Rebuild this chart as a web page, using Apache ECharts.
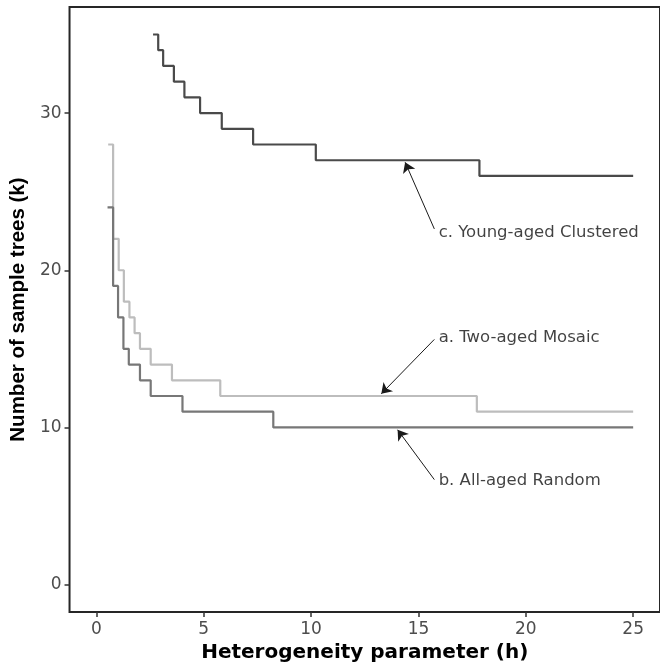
<!DOCTYPE html>
<html>
<head>
<meta charset="utf-8">
<script src="https://cdn.jsdelivr.net/npm/echarts@6/dist/echarts.min.js"></script>
<style>
html,body{margin:0;padding:0;background:#fff;}
#chart{width:660px;height:668px;}
</style>
</head>
<body>
<div id="chart"></div>
<script>
// ---- data ----
const hMosaic    = [0.55, 0.78, 1.04, 1.28, 1.54, 1.78, 2.03, 2.53, 3.52, 5.77, 17.72, 25];
const kMosaic    = [28,   22,   20,   18,   17,   16,   15,   14,   13,   12,   11,    11];
const hRandom    = [0.52, 0.78, 1.01, 1.26, 1.51, 2.03, 2.53, 4.01, 8.24, 25];
const kRandom    = [24,   19,   17,   15,   14,   13,   12,   11,   10,   10];
const hClustered = [2.64, 2.88, 3.11, 3.61, 4.10, 4.83, 5.84, 7.30, 10.22, 17.84, 25];
const kClustered = [35,   34,   33,   32,   31,   30,   29,   28,   27,    26,    26];

const xTicks = [0, 5, 10, 15, 20, 25];
const yTicks = [0, 10, 20, 30];

const labelTexts = ['a. Two-aged Mosaic', 'b. All-aged Random', 'c. Young-aged Clustered'];
const labelX     = [15.94, 15.94, 15.94];
const labelY     = [15.7, 6.6, 22.42];
const arrowTailX = [15.74, 15.74, 15.74];
const arrowTailY = [15.6, 6.68, 22.63];
const arrowTipX  = [13.27, 14.03, 14.38];
const arrowTipY  = [12.14, 9.85, 26.87];

const seriesColors = ['#bdbdbd', '#777777', '#4a4a4a'];

// ---- build ----
const zip = (xs, ys) => xs.map((x, i) => [x, ys[i]]);
const curves = [zip(hMosaic, kMosaic), zip(hRandom, kRandom), zip(hClustered, kClustered)];

const lineSeries = curves.map((d, i) => ({
  type: 'line',
  step: 'end',
  data: d,
  showSymbol: false,
  symbol: 'none',
  silent: true,
  animation: false,
  lineStyle: { color: seriesColors[i], width: 2.2 },
  z: 2 + i
}));

const arrowSeries = {
  type: 'line',
  data: [],
  silent: true,
  animation: false,
  markLine: {
    silent: true,
    animation: false,
    symbol: ['none', 'arrow'],
    symbolSize: 10,
    label: { show: false },
    emphasis: { disabled: true },
    lineStyle: { color: '#1a1a1a', width: 1, type: 'solid' },
    itemStyle: { color: '#1a1a1a' },
    data: labelTexts.map((t, i) => [
      { coord: [arrowTailX[i], arrowTailY[i]] },
      { coord: [arrowTipX[i], arrowTipY[i]] }
    ])
  }
};

const textSeries = {
  type: 'scatter',
  symbolSize: 0,
  silent: true,
  animation: false,
  data: labelTexts.map((t, i) => ({ value: [labelX[i], labelY[i]], name: t })),
  label: {
    show: true,
    position: 'right',
    distance: 0,
    formatter: p => p.name,
    fontFamily: 'DejaVu Sans',
    fontSize: 16.5,
    color: '#111111'
  }
};

const chart = echarts.init(document.getElementById('chart'), null, { renderer: 'canvas' });
chart.setOption({
  animation: false,
  backgroundColor: '#ffffff',
  grid: {
    left: 66, top: 7, width: 601, height: 606,
    show: true, borderColor: '#262626', borderWidth: 2, backgroundColor: 'transparent'
  },
  xAxis: {
    type: 'value',
    min: -1.25, max: 26.25,
    name: 'Heterogeneity parameter (h)',
    nameLocation: 'middle',
    nameGap: 27,
    nameTextStyle: { fontFamily: 'DejaVu Sans', fontWeight: 'bold', fontSize: 20, color: '#000' },
    axisLine: { show: false, onZero: false },
    splitLine: { show: false },
    axisTick: { show: true, customValues: xTicks, length: 5, lineStyle: { color: '#333', width: 1.5 } },
    axisLabel: { customValues: xTicks, margin: 9, fontFamily: 'DejaVu Sans', fontSize: 17, color: '#4d4d4d' }
  },
  yAxis: {
    type: 'value',
    min: -1.75, max: 36.75,
    name: 'Number of sample trees (k)',
    nameLocation: 'middle',
    nameRotate: 90,
    nameGap: 28,
    nameTextStyle: { fontFamily: 'Liberation Sans', fontWeight: 'bold', fontSize: 20.5, color: '#000' },
    axisLine: { show: false, onZero: false },
    splitLine: { show: false },
    axisTick: { show: true, customValues: yTicks, length: 5, lineStyle: { color: '#333', width: 1.5 } },
    axisLabel: { customValues: yTicks, margin: 8, fontFamily: 'DejaVu Sans', fontSize: 17, color: '#4d4d4d' }
  },
  series: [...lineSeries, arrowSeries, textSeries]
});
</script>
</body>
</html>
